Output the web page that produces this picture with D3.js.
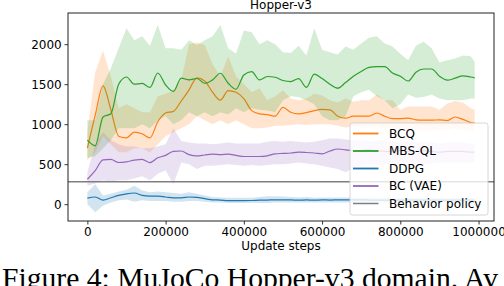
<!DOCTYPE html>
<html>
<head>
<meta charset="UTF-8">
<script src="https://d3js.org/d3.v7.min.js"></script>
<style>
  body { margin: 0; padding: 0; background: #fff; }
  svg { display: block; }
  text { font-family: "DejaVu Sans", sans-serif; }
</style>
</head>
<body>
<script>
// update steps every 20000, last point at 990000
var steps = d3.range(0, 990000, 20000).concat([990000]);

var bcq = [700,1110,1480,1180,850,830,900,880,830,1030,
  1140,1160,1290,1430,1580,1540,1400,1300,1420,1400,
  1320,1170,1130,1120,1100,1210,1150,1130,1145,1170,
  1185,1180,1100,1075,1100,1100,1100,1140,1100,1070,
  1070,1075,1055,1050,1050,1055,1045,1090,1060,1020,
  1010];
var bcqHi = [900,1650,1920,1600,1200,1250,1200,1150,1150,1350,
  1380,1420,1550,2000,2020,1990,1750,1600,1850,1600,
  1500,1400,1450,1300,1350,1420,1320,1300,1320,1380,
  1360,1300,1270,1320,1280,1300,1300,1370,1300,1300,
  1180,1220,1220,1220,1220,1180,1260,1290,1270,1200,
  1180];
var bcqLo = [550,650,850,750,650,650,700,700,650,750,
  850,900,950,1000,1100,1050,1000,1050,1000,1050,
  1000,950,950,960,980,980,990,1000,990,1000,
  1000,1000,980,960,970,960,960,970,950,950,
  940,930,920,920,920,930,930,950,930,920,
  900];

var mbs = [800,730,1090,1130,1500,1590,1500,1510,1460,1640,
  1490,1410,1575,1554,1571,1512,1554,1637,1512,1437,
  1616,1658,1554,1596,1587,1546,1533,1570,1460,1625,
  1570,1500,1450,1520,1600,1660,1710,1720,1720,1640,
  1600,1540,1650,1690,1690,1600,1550,1575,1605,1590,
  1580];
var mbsHi = [1050,1050,1500,1700,1950,2200,2050,2100,1980,2240,
  1950,1950,1930,2050,1990,2050,2100,2240,1950,1880,
  2170,2150,2000,2050,2000,1900,1890,1980,1860,2200,
  1930,1900,1870,1970,1930,2010,2080,2100,2010,1970,
  1880,1800,1980,2030,1950,1770,1800,1820,1860,1850,
  1780];
var mbsLo = [580,600,700,800,950,950,950,1000,950,1050,
  1100,1000,1050,1150,1100,1150,1100,1150,1120,1200,
  1150,1200,1180,1170,1150,1300,1350,1340,1300,1250,
  1100,1050,1050,1100,1350,1400,1430,1350,1300,1200,
  1250,1370,1330,1340,1370,1320,1300,1300,1300,1320,
  1320];

var ddpg = [75,90,50,80,110,130,140,110,100,100,
  90,80,80,90,85,70,55,52,45,45,
  45,46,50,52,54,54,54,50,54,50,
  54,52,54,55,55,55,52,50,50,50,
  50,52,52,50,50,52,52,50,50,50,
  50];
var ddpgHi = [150,250,110,130,160,180,230,170,150,160,
  150,140,130,150,130,110,90,85,80,80,
  80,80,90,100,100,95,90,85,90,80,
  85,85,85,85,85,85,85,80,80,80,
  80,80,80,80,80,80,80,80,80,80,
  80];
var ddpgLo = [0,-100,-20,20,50,60,30,50,40,40,
  40,30,30,40,40,30,20,20,15,15,
  15,15,15,15,20,20,20,20,20,20,
  20,20,20,20,20,20,20,20,20,20,
  20,20,20,20,20,20,20,20,20,20,
  20];

var bc = [312,420,554,560,521,530,550,560,520,580,
  610,660,665,620,604,615,625,620,625,610,
  596,596,596,605,630,635,640,650,646,640,
  630,665,690,680,670,670,680,670,660,660,
  670,660,660,670,660,650,660,660,660,650,
  650];
var bcHi = [400,750,900,800,750,720,720,700,700,720,
  750,950,790,770,760,760,750,760,770,760,
  760,760,760,780,790,780,790,780,770,780,
  800,820,820,810,800,800,790,780,790,780,
  770,780,770,780,770,760,770,780,770,760,
  760];
var bcLo = [230,260,300,280,300,300,320,350,300,380,
  420,250,520,500,440,480,480,490,500,490,
  480,490,480,490,500,500,510,520,510,500,
  480,460,440,400,460,480,500,490,500,510,
  500,500,510,500,510,520,520,520,520,520,
  520];

var behavior = 282;

var xTicks = [0, 200000, 400000, 600000, 800000, 1000000];
var yTicks = [0, 500, 1000, 1500, 2000];
var labels = ["BCQ", "MBS-QL", "DDPG", "BC (VAE)", "Behavior policy"];
var colors = ["#ff7f0e", "#2ca02c", "#1f77b4", "#9467bd", "#7f7f7f"];

var W = 504, H = 286;
var plotL = 68, plotR = 494, plotT = 13, plotB = 221;

var svg = d3.select("body").append("svg")
  .attr("width", W)
  .attr("height", H);

var x = d3.scaleLinear().domain([-49500, 1039500]).range([plotL, plotR]);
var y = d3.scaleLinear().domain([-210, 2390]).range([plotB, plotT]);

var series = [
  {mean: bcq, hi: bcqHi, lo: bcqLo, color: colors[0]},
  {mean: mbs, hi: mbsHi, lo: mbsLo, color: colors[1]},
  {mean: ddpg, hi: ddpgHi, lo: ddpgLo, color: colors[2]},
  {mean: bc, hi: bcHi, lo: bcLo, color: colors[3]}
];

var plot = svg.append("g");

series.forEach(function(s) {
  var area = d3.area()
    .x(function(d, i) { return x(steps[i]); })
    .y0(function(d, i) { return y(s.lo[i]); })
    .y1(function(d, i) { return y(s.hi[i]); });
  plot.append("path")
    .attr("d", area(s.mean))
    .attr("fill", s.color)
    .attr("fill-opacity", 0.2);

  var line = d3.line()
    .x(function(d, i) { return x(steps[i]); })
    .y(function(d) { return y(d); })
    .curve(d3.curveMonotoneX);
  plot.append("path")
    .attr("d", line(s.mean))
    .attr("fill", "none")
    .attr("stroke", s.color)
    .attr("stroke-width", 1.2);
});

// behavior policy, horizontal line across the axes
plot.append("line")
  .attr("x1", plotL).attr("x2", plotR)
  .attr("y1", y(behavior)).attr("y2", y(behavior))
  .attr("stroke", colors[4])
  .attr("stroke-width", 1.5);

// axes
var xAxis = svg.append("g")
  .attr("transform", "translate(0," + plotB + ")")
  .call(d3.axisBottom(x).tickValues(xTicks).tickFormat(d3.format("d"))
    .tickSize(3.5).tickPadding(2.5));
var yAxis = svg.append("g")
  .attr("transform", "translate(" + plotL + ",0)")
  .call(d3.axisLeft(y).tickValues(yTicks).tickFormat(d3.format("d"))
    .tickSize(3.5).tickPadding(2.8));
[xAxis, yAxis].forEach(function(a) {
  a.select(".domain").remove();
  a.selectAll("text").attr("font-size", 12).attr("fill", "#000")
    .style("font-family", "DejaVu Sans");
  a.selectAll("line").attr("stroke", "#000").attr("stroke-width", 0.8);
});

svg.append("rect")
  .attr("x", plotL).attr("y", plotT)
  .attr("width", plotR - plotL).attr("height", plotB - plotT)
  .attr("fill", "none")
  .attr("stroke", "#222")
  .attr("stroke-width", 1);

svg.append("text")
  .attr("x", (plotL + plotR) / 2).attr("y", 8.5)
  .attr("text-anchor", "middle")
  .attr("font-size", 12)
  .text("Hopper-v3");

svg.append("text")
  .attr("x", (plotL + plotR) / 2).attr("y", 249.5)
  .attr("text-anchor", "middle")
  .attr("font-size", 12)
  .text("Update steps");

// legend
var legend = svg.append("g");
legend.append("rect")
  .attr("x", 350).attr("y", 123)
  .attr("width", 138).attr("height", 92)
  .attr("rx", 2.5)
  .attr("fill", "#fff").attr("fill-opacity", 0.8)
  .attr("stroke", "#cccccc").attr("stroke-width", 0.8);
labels.forEach(function(lab, i) {
  var ly = 133.5 + i * 17.5;
  legend.append("line")
    .attr("x1", 353).attr("x2", 378.5)
    .attr("y1", ly).attr("y2", ly)
    .attr("stroke", colors[i])
    .attr("stroke-width", i === 4 ? 1.5 : 1.8);
  legend.append("text")
    .attr("x", 389).attr("y", ly)
    .attr("dy", "0.36em")
    .attr("font-size", 12)
    .text(lab);
});

// figure caption, cut by the bottom edge
svg.append("text")
  .attr("x", 2).attr("y", 288)
  .attr("font-size", 29)
  .attr("textLength", 496)
  .attr("lengthAdjust", "spacingAndGlyphs")
  .style("font-family", "'Liberation Serif', 'DejaVu Serif', serif")
  .text("Figure 4: MuJoCo Hopper-v3 domain. Av");
</script>
</body>
</html>
